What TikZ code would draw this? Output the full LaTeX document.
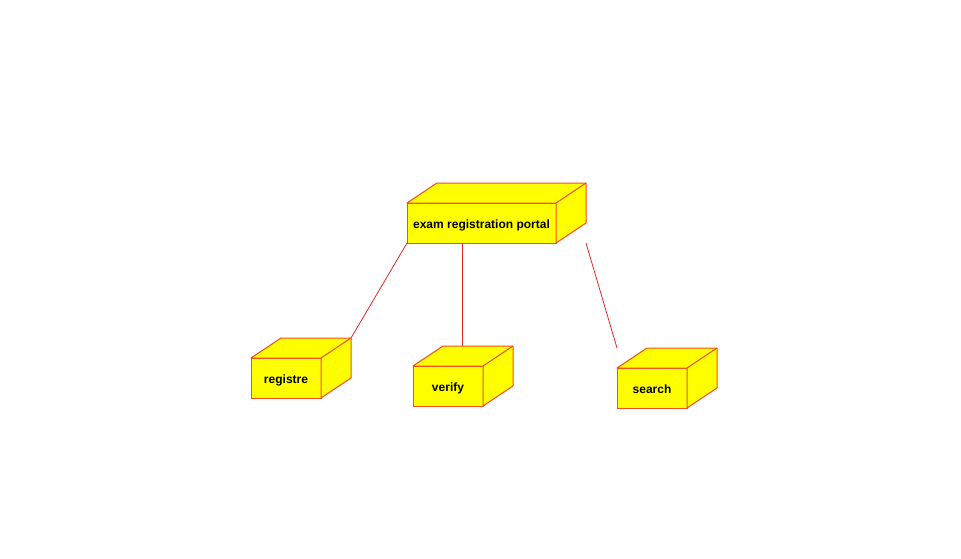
\documentclass[tikz,border=0pt]{standalone}
\usepackage{fontspec}
\setmainfont{Liberation Sans}
\definecolor{boxfill}{RGB}{255,255,0}
\definecolor{boxline}{RGB}{240,80,32}
\definecolor{linkline}{RGB}{230,40,40}
\begin{document}
\begin{tikzpicture}
[x=1pt,y=-1pt,
  nodedecorate/.style={shape=rectangle,draw=boxline,fill=boxfill,line width=1pt,
    minimum width=70pt,minimum height=40pt,inner sep=0pt,outer sep=0pt,
    text height=11pt,text depth=0pt,
    font=\bfseries\fontsize{12}{14}\selectfont},%
  facedecorate/.style={draw=boxline,fill=boxfill,line width=1pt,line join=round},%
  linedecorate/.style={-,draw=linkline,line width=0.8pt}]
\useasboundingbox (0,0) rectangle (961,558);
%% nodes
\node (portal) at (481.5,223) [nodedecorate,minimum width=149pt] {exam registration portal};
\foreach \nodename/\x/\y in {registre/286/378, verify/448/386, search/652/388}
{
  \node (\nodename) at (\x,\y) [nodedecorate] {\nodename};
}
%% depth faces
\foreach \nodename in {portal,registre,verify,search}
{
  \draw[facedecorate] (\nodename.north west) -- ++(30,-20)
    -- ([shift={(30,-20)}]\nodename.north east)
    -- ([shift={(30,-20)}]\nodename.south east)
    -- (\nodename.south east) -- (\nodename.north east) -- cycle;
  \draw[facedecorate] (\nodename.north east) -- ++(30,-20);
}
%% links
\coordinate (registreback) at ([shift={(30,-20)}]registre.north east);
\coordinate (verifyback) at ([shift={(14.5,-20)}]verify.north);
\coordinate (portalend) at ([xshift=30pt]portal.south east);
\coordinate (searchend) at ([yshift=20pt]search.north west);
\draw[linedecorate] (portal.south west) -- (registreback);
\draw[linedecorate] (portal.south -| verifyback) -- (verifyback);
\draw[linedecorate] (portalend) -- (searchend);
\end{tikzpicture}
\end{document}
